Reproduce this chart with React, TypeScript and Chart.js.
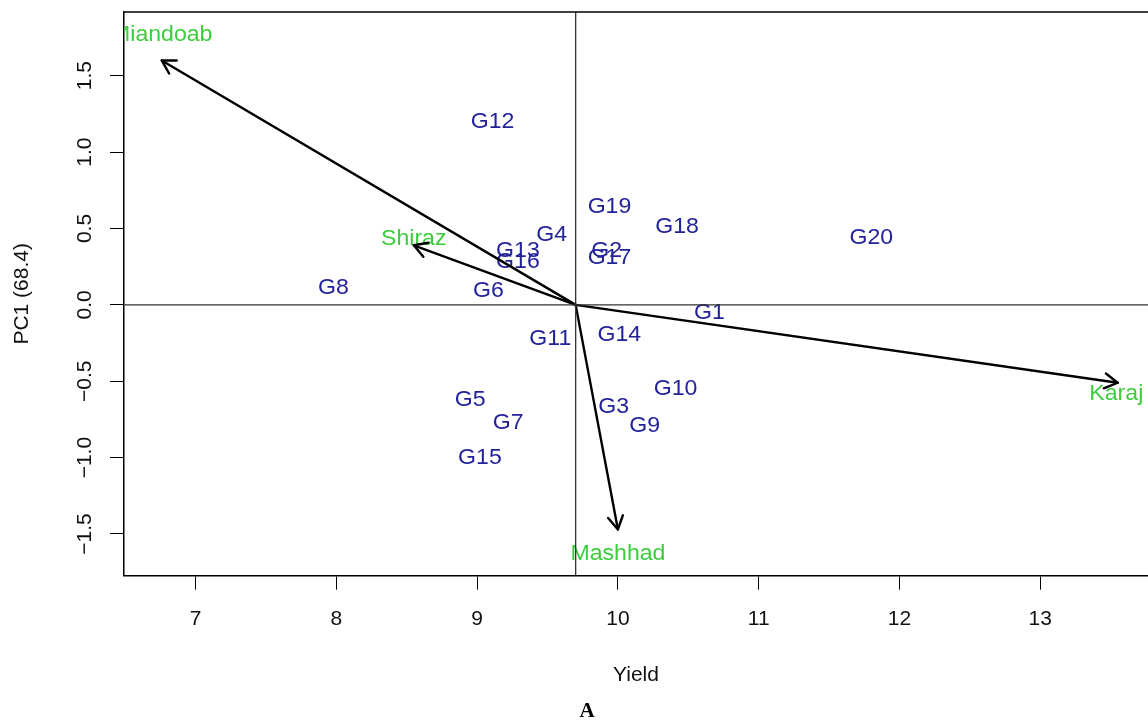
import React, { useEffect, useRef } from 'react';
import { Chart, registerables } from 'chart.js';

Chart.register(...registerables);

// ---- data ----
const genotypes = ['G1', 'G2', 'G3', 'G4', 'G5', 'G6', 'G7', 'G8', 'G9', 'G10', 'G11', 'G12', 'G13', 'G14', 'G15', 'G16', 'G17', 'G18', 'G19', 'G20'];
const genoYield = [10.65, 9.92, 9.97, 9.53, 8.95, 9.08, 9.22, 7.98, 10.19, 10.41, 9.52, 9.11, 9.29, 10.01, 9.02, 9.29, 9.94, 10.42, 9.94, 11.8];
const genoPC1 = [-0.05, 0.35, -0.67, 0.46, -0.62, 0.09, -0.77, 0.11, -0.79, -0.55, -0.22, 1.2, 0.35, -0.2, -1.0, 0.28, 0.31, 0.51, 0.64, 0.44];

const environments = ['Miandoab', 'Shiraz', 'Karaj', 'Mashhad'];
const envTipYield = [6.76, 8.55, 13.55, 10.0];
const envTipPC1 = [1.6, 0.39, -0.51, -1.47];
const envLabelYield = [6.76, 8.55, 13.54, 10.0];
const envLabelPC1 = [1.77, 0.43, -0.58, -1.63];

const meanYield = 9.7;
const xMin = 6.492;
const xMax = 13.765;
const yMin = -1.773;
const yMax = 1.917;

const xTitle = 'Yield';
const yTitle = 'PC1 (68.4)';
const caption = 'A';

const GENO_COLOR = '#22229a';
const ENV_COLOR = '#3ccd3c';
const FONT = '"Liberation Sans", Arial, Helvetica, sans-serif';

const biplotPlugin = {
  id: 'biplot',
  beforeDatasetsDraw(chart: any) {
    const { ctx, chartArea, scales } = chart;
    const x = scales.x;
    const y = scales.y;
    ctx.save();
    ctx.beginPath();
    ctx.rect(chartArea.left, chartArea.top, chartArea.right - chartArea.left, chartArea.bottom - chartArea.top);
    ctx.clip();
    ctx.font = `22px ${FONT}`;
    ctx.textAlign = 'center';
    ctx.textBaseline = 'middle';
    const drawText = (t: string, px: number, py: number) => {
      ctx.save();
      ctx.translate(px, py);
      ctx.scale(1.05, 1);
      ctx.fillText(t, 0, 0);
      ctx.restore();
    };
    ctx.fillStyle = GENO_COLOR;
    genotypes.forEach((g, i) => {
      drawText(g, x.getPixelForValue(genoYield[i]), y.getPixelForValue(genoPC1[i]));
    });
    ctx.fillStyle = ENV_COLOR;
    environments.forEach((e, i) => {
      drawText(e, x.getPixelForValue(envLabelYield[i]), y.getPixelForValue(envLabelPC1[i]));
    });
    ctx.restore();
  },
  afterDatasetsDraw(chart: any) {
    const { ctx, scales } = chart;
    const x = scales.x;
    const y = scales.y;
    const ox = x.getPixelForValue(meanYield);
    const oy = y.getPixelForValue(0);
    ctx.save();
    ctx.strokeStyle = '#000';
    ctx.lineWidth = 2.4;
    ctx.lineCap = 'round';
    ctx.lineJoin = 'round';
    const len = 15;
    const ang = Math.PI / 6;
    environments.forEach((_, i) => {
      const tx = x.getPixelForValue(envTipYield[i]);
      const ty = y.getPixelForValue(envTipPC1[i]);
      const a = Math.atan2(ty - oy, tx - ox);
      ctx.beginPath();
      ctx.moveTo(tx - len * Math.cos(a - ang), ty - len * Math.sin(a - ang));
      ctx.lineTo(tx, ty);
      ctx.lineTo(tx - len * Math.cos(a + ang), ty - len * Math.sin(a + ang));
      ctx.stroke();
    });
    ctx.restore();
  },
  afterDraw(chart: any) {
    const { ctx, chartArea } = chart;
    ctx.save();
    ctx.strokeStyle = '#000';
    ctx.lineWidth = 1.5;
    ctx.beginPath();
    ctx.moveTo(chartArea.left, chartArea.top);
    ctx.lineTo(chartArea.right + 2, chartArea.top);
    ctx.stroke();
    ctx.fillStyle = '#000';
    ctx.font = 'bold 21px "Liberation Serif", "Times New Roman", serif';
    ctx.textAlign = 'center';
    ctx.textBaseline = 'middle';
    ctx.fillText(caption, 587, 712);
    ctx.restore();
  },
};

export default function App() {
  const canvasRef = useRef<HTMLCanvasElement | null>(null);

  useEffect(() => {
    const canvas = canvasRef.current;
    if (!canvas) return;

    const refColor = '#333';
    const datasets: any[] = [
      {
        label: 'hline',
        data: [{ x: xMin, y: 0 }, { x: xMax, y: 0 }],
        showLine: true,
        borderColor: refColor,
        borderWidth: 1.3,
        pointRadius: 0,
      },
      {
        label: 'vline',
        data: [{ x: meanYield, y: yMin }, { x: meanYield, y: yMax }],
        showLine: true,
        borderColor: refColor,
        borderWidth: 1.3,
        pointRadius: 0,
      },
      {
        label: 'genotypes',
        data: genotypes.map((_, i) => ({ x: genoYield[i], y: genoPC1[i] })),
        pointRadius: 0,
        showLine: false,
      },
    ];
    environments.forEach((e, i) => {
      datasets.push({
        label: e,
        data: [{ x: meanYield, y: 0 }, { x: envTipYield[i], y: envTipPC1[i] }],
        showLine: true,
        borderColor: '#000',
        borderWidth: 2.4,
        pointRadius: 0,
        borderCapStyle: 'round',
      });
    });

    const chart = new Chart(canvas, {
      type: 'scatter',
      data: { datasets },
      plugins: [biplotPlugin],
      options: {
        animation: false,
        responsive: true,
        maintainAspectRatio: false,
        layout: { padding: { top: 12, left: 0, right: 0, bottom: 0 } },
        plugins: {
          legend: { display: false },
          tooltip: { enabled: false },
        },
        scales: {
          x: {
            type: 'linear',
            min: xMin,
            max: xMax,
            afterFit: (s: any) => { s.height = 144.3; s.paddingLeft = 0; s.paddingRight = 0; },
            border: { display: true, color: '#000', width: 1.5 },
            grid: { drawOnChartArea: false, drawTicks: true, tickLength: 14, color: '#000', lineWidth: 1 },
            ticks: {
              stepSize: 1,
              includeBounds: false,
              autoSkip: false,
              maxRotation: 0,
              minRotation: 0,
              padding: 17,
              color: '#111',
              font: { family: FONT, size: 21 },
              callback: (v: any) => String(v),
            },
            title: {
              display: true,
              text: xTitle,
              color: '#111',
              font: { family: FONT, size: 21 },
              padding: { top: 32, bottom: 32 },
            },
          },
          y: {
            type: 'linear',
            min: yMin,
            max: yMax,
            afterFit: (s: any) => { s.width = 124; s.paddingTop = 0; s.paddingBottom = 0; },
            border: { display: true, color: '#000', width: 1.5 },
            grid: { drawOnChartArea: false, drawTicks: true, tickLength: 14, color: '#000', lineWidth: 1 },
            ticks: {
              stepSize: 0.5,
              includeBounds: false,
              autoSkip: false,
              minRotation: 90,
              maxRotation: 90,
              crossAlign: 'center',
              padding: 4,
              color: '#111',
              font: { family: FONT, size: 21 },
              callback: (v: any) => {
                const n = Number(v);
                const s = Math.abs(n).toFixed(1);
                return n < -1e-9 ? '\u2212' + s : s;
              },
            },
            title: {
              display: true,
              text: yTitle,
              color: '#111',
              font: { family: FONT, size: 21 },
              padding: { top: 10, bottom: 0 },
            },
          },
        },
      } as any,
    });

    return () => chart.destroy();
  }, []);

  return (
    <div style={{ position: 'fixed', left: 0, top: 0, width: 1148, height: 720, background: '#fff' }}>
      <canvas ref={canvasRef} />
    </div>
  );
}
